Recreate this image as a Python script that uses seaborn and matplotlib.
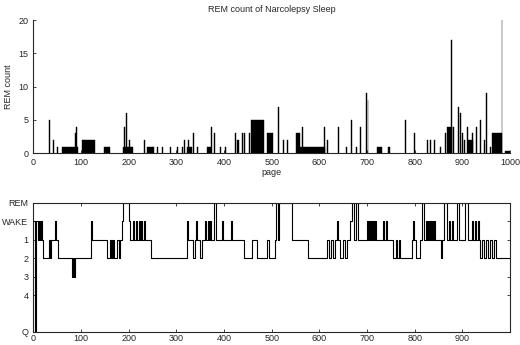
import matplotlib
matplotlib.use("Agg")
import matplotlib.pyplot as plt
import seaborn as sns
import pandas as pd

# REM count per page: start page, width (pages), count
rem_start = [34, 42, 50, 61, 88, 90, 103, 149, 189, 191, 194, 200,
             233, 239, 252, 260, 270, 287, 302, 312, 317, 322, 325, 335, 343,
             364, 373, 379, 392, 402, 423, 428, 438, 442, 453,
             457, 490, 514, 524, 532, 551, 560, 564, 610, 616,
             639, 656, 667, 677, 686, 698, 701, 721, 744, 780, 799,
             826, 832, 841, 853, 864, 868, 876, 880, 891, 895, 899, 903, 909,
             912, 920, 928, 937, 945, 949, 957, 963, 982, 990]
rem_width = [2, 2, 2, 33, 2, 2, 27, 11, 21, 2, 2, 2,
             2, 13, 2, 2, 2, 2, 2, 2, 2, 11, 2, 2, 2,
             9, 2, 2, 2, 2, 2, 3, 2, 3, 2,
             27, 13, 2, 2, 2, 9, 52, 2, 2, 2,
             2, 2, 2, 2, 2, 2, 2, 10, 4, 2, 2,
             2, 2, 2, 2, 2, 10, 2, 2, 2, 2, 2, 2, 2,
             10, 2, 2, 2, 2, 2, 2, 20, 2, 10]
rem_count = [5, 2, 1, 1, 3, 4, 2, 1, 1, 4, 6, 2,
             2, 1, 1, 1, 1, 1, 1, 1, 2, 1, 2, 3, 1,
             1, 4, 3, 1, 1, 3, 2, 3, 3, 3,
             5, 3, 7, 2, 2, 3, 1, 4, 4, 2,
             4, 1, 5, 1, 4, 9, 8, 1, 1, 5, 3,
             2, 2, 2, 1, 3, 4, 17, 4, 7, 6, 3, 2, 4,
             2, 3, 4, 5, 2, 9, 1, 3, 20, 0.3]

# sleep stage per page (step changes); 0=REM 1=WAKE 2..5=stage 1..4, 7=Q
hyp_page = [0, 4, 6, 10, 12, 14, 16, 18, 20, 32, 36, 38, 46, 48, 52,
            82, 84, 86, 88, 122, 124, 154, 160, 162, 164, 166, 168, 170,
            176, 180, 182, 186, 188, 200, 202, 210, 212, 216, 218, 222, 224,
            226, 228, 232, 234, 246, 322, 324, 336, 340, 342, 344, 350, 354,
            360, 362, 366, 368, 370, 372, 380, 384, 395, 397, 415, 417, 442,
            458, 470, 490, 494, 506, 510, 514, 516, 542, 576, 616, 620, 624,
            628, 632, 636, 638, 644, 650, 654, 658, 664, 668, 672, 676, 680,
            686, 700, 702, 704, 706, 708, 710, 712, 714, 716, 718, 720, 734,
            736, 740, 742, 755, 760, 763, 768, 770, 795, 797, 799, 803, 812,
            816, 820, 824, 826, 828, 830, 832, 834, 836, 838, 840, 842, 852,
            856, 858, 862, 868, 872, 874, 878, 880, 888, 892, 906, 912, 920,
            922, 926, 928, 932, 934, 937, 942, 946, 950, 954, 958, 962, 966,
            970, 975, 1000]
hyp_stage = [1, 7, 1, 2, 1, 2, 1, 2, 3, 2, 3, 2, 1, 2, 3,
             4, 3, 4, 3, 1, 2, 3, 2, 3, 2, 3, 2, 3,
             2, 3, 2, 1, 0, 1, 2, 1, 2, 1, 2, 1, 2,
             1, 2, 1, 2, 3, 1, 2, 3, 2, 1, 2, 3, 2,
             1, 2, 1, 2, 1, 2, 0, 2, 1, 2, 1, 2, 3,
             2, 3, 2, 3, 2, 0, 2, 0, 2, 3, 2, 3, 2,
             3, 2, 1, 2, 3, 2, 3, 2, 1, 0, 2, 0, 2,
             2, 1, 2, 1, 2, 1, 2, 1, 2, 1, 2, 2, 1,
             2, 1, 2, 3, 2, 3, 2, 3, 2, 1, 2, 3, 2,
             0, 2, 1, 2, 1, 2, 1, 2, 1, 2, 1, 2, 2,
             3, 2, 0, 2, 1, 2, 1, 2, 0, 2, 0, 2, 1,
             2, 1, 2, 1, 2, 3, 2, 3, 2, 3, 2, 3, 2,
             3, 3, 3]
stage_labels = ["REM", "WAKE", "1", "2", "3", "4", "Q"]
stage_ticks = [0, 1, 2, 3, 4, 5, 7]

sns.set_style("ticks")
plt.rcParams['font.family'] = ['Liberation Sans', 'DejaVu Sans']
plt.rcParams['xtick.direction'] = 'in'
plt.rcParams['ytick.direction'] = 'in'

fig = plt.figure(figsize=(5.2, 3.45), dpi=100)
ax1 = fig.add_axes([0.064, 0.556, 0.917, 0.386])
ax2 = fig.add_axes([0.064, 0.038, 0.917, 0.374])

# top: REM count bars
ax1.bar(rem_start, rem_count, width=rem_width, align='edge', color='black',
        edgecolor='black', linewidth=0.3)
ax1.set_xlim(0, 1000)
ax1.set_ylim(0, 20)
ax1.set_xticks(range(0, 1001, 100))
ax1.set_yticks([0, 5, 10, 15, 20])
ax1.tick_params(labelsize=6.5, length=2.5, width=0.6)
ax1.set_title("REM count of Narcolepsy Sleep", fontsize=6.5, pad=6)
ax1.set_xlabel("page", fontsize=6.5, labelpad=1)
ax1.set_ylabel("REM count", fontsize=6.5, labelpad=4)
sns.despine(ax=ax1)
for s in ax1.spines.values():
    s.set_linewidth(0.8)

# bottom: hypnogram
hyp = pd.DataFrame({"page": hyp_page, "stage": hyp_stage})
sns.lineplot(data=hyp, x="page", y="stage", ax=ax2, color='black',
             linewidth=0.8, drawstyle='steps-post', estimator=None, sort=False)
ax2.set_xlim(0, 1000)
ax2.set_ylim(7, 0)
ax2.set_yticks(stage_ticks)
ax2.set_yticklabels(stage_labels)
ax2.set_xticks(range(0, 901, 100))
ax2.set_xlabel("")
ax2.set_ylabel("")
ax2.tick_params(labelsize=6.5, length=2.5, width=0.6, top=True, right=True)
ax2.tick_params(axis='x', pad=1.5)
for s in ax2.spines.values():
    s.set_linewidth(0.8)

fig.savefig("out.png", dpi=100)
